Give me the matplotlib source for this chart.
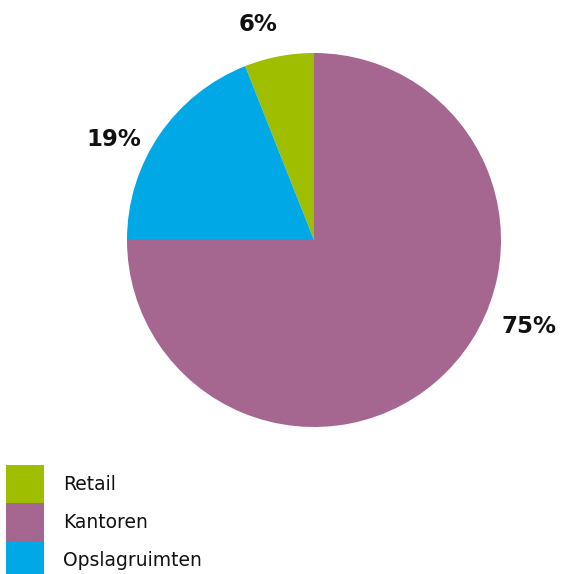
import matplotlib.pyplot as plt
from matplotlib.patches import Rectangle
import numpy as np

# wedge order: counter-clockwise from 12 o'clock
categories = ['Retail', 'Opslagruimten', 'Kantoren']
values = [6, 19, 75]
colors = ['#a0be00', '#00a8e6', '#a5668f']

legend_order = ['Retail', 'Kantoren', 'Opslagruimten']

# label placement (angle in degrees, distance in radii) for each wedge
label_angle = [104.5, 153.4, 338.2]
label_dist = [1.19, 1.20, 1.24]

W, H = 561, 574
fig = plt.figure(figsize=(W / 100, H / 100), dpi=100)
ax = fig.add_axes([127 / W, (H - 427) / H, 374 / W, 374 / H])
ax.pie(values, colors=colors, startangle=90, counterclock=True,
       wedgeprops={'linewidth': 0})
ax.set_xlim(-1, 1)
ax.set_ylim(-1, 1)
ax.set_aspect('equal')
ax.axis('off')

for v, a, d in zip(values, label_angle, label_dist):
    x = d * np.cos(np.radians(a))
    y = d * np.sin(np.radians(a))
    ax.text(x, y, f'{v}%', ha='center', va='center', fontsize=16.5,
            fontweight='bold', family='DejaVu Sans', color='#111111',
            clip_on=False)

# legend: stacked color blocks on the left
for i, name in enumerate(legend_order):
    c = colors[categories.index(name)]
    top = 465 + i * 38
    fig.add_artist(Rectangle((6 / W, (H - top - 38) / H), 38 / W, 38 / H,
                             transform=fig.transFigure, facecolor=c,
                             edgecolor='none'))
    fig.text(63 / W, (H - top - 20) / H, name, ha='left', va='center',
             fontsize=13.5, family='DejaVu Sans', color='#111111')

fig.savefig('out.png', dpi=100)
